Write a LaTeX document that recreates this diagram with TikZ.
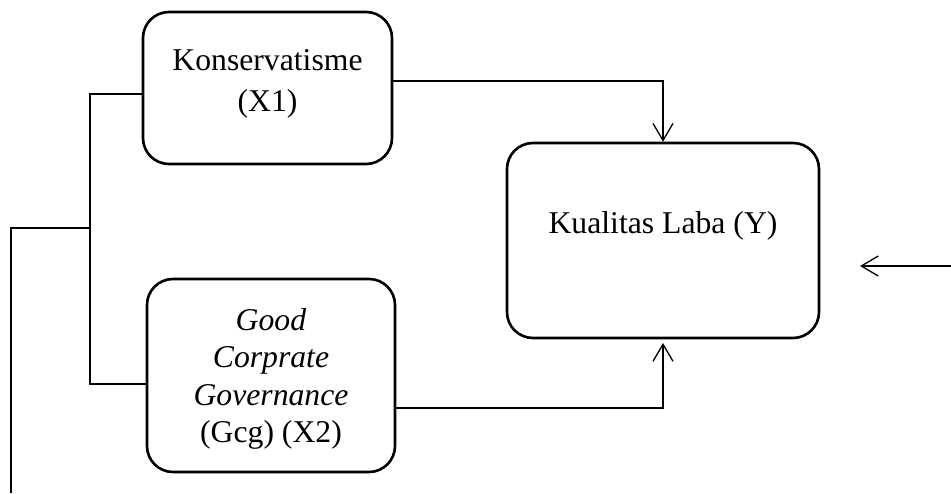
\documentclass[tikz,border=0pt]{standalone}
\usepackage{fontspec}
\setmainfont{Liberation Serif}
\usetikzlibrary{arrows.meta}
\begin{document}
\begin{tikzpicture}[x=1pt,y=-1pt,
  box/.style={draw=black,line width=2.6pt,rounded corners=26pt,inner sep=0pt},
  conn/.style={draw=black,line width=1.3pt},
  arr/.style={conn,-{Straight Barb[length=17pt,width=20pt,line width=1.3pt]}},
  txt/.style={align=center,inner sep=0pt}]
\useasboundingbox (0,0) rectangle (951,493);
% boxes
\node[box,minimum width=249pt,minimum height=152pt] (box1) at (267.5,88) {};
\node[box,minimum width=248pt,minimum height=193pt] (box2) at (271,375.5) {};
\node[box,minimum width=312pt,minimum height=195pt] (ybox) at (663,240.5) {};
% texts
\node[txt,font=\fontsize{31.7pt}{41pt}\selectfont] (t1) at (267.5,84) {Konservatisme\\(X1)};
\node[txt,font=\fontsize{31.7pt}{37.3pt}\selectfont] (t2) at (271,379) {\textit{Good}\\\textit{Corprate}\\\textit{Governance}\\(Gcg) (X2)};
\node[txt,font=\fontsize{31.7pt}{38pt}\selectfont,anchor=base] (ty) at (663,233) {Kualitas Laba (Y)};
% connectors to Y
\draw[arr] (box1.east |- 0,81) -| (ybox.north);
\coordinate (b2tip) at (663,343);
\draw[arr] (box2.east |- 0,408) -| (b2tip);
% left bracket
\coordinate (jv) at (90,228);
\coordinate (ltop) at (90,94);
\coordinate (lbot) at (90,384);
\coordinate (lend) at (11,493);
\draw[conn] (box1.west |- ltop) -- (ltop) -- (lbot) -- (box2.west |- lbot);
\draw[conn] (jv) -| (lend);
% right arrow
\coordinate (rs) at (951,266);
\coordinate (re) at (860,266);
\draw[arr] (rs) -- (re);
\end{tikzpicture}
\end{document}
